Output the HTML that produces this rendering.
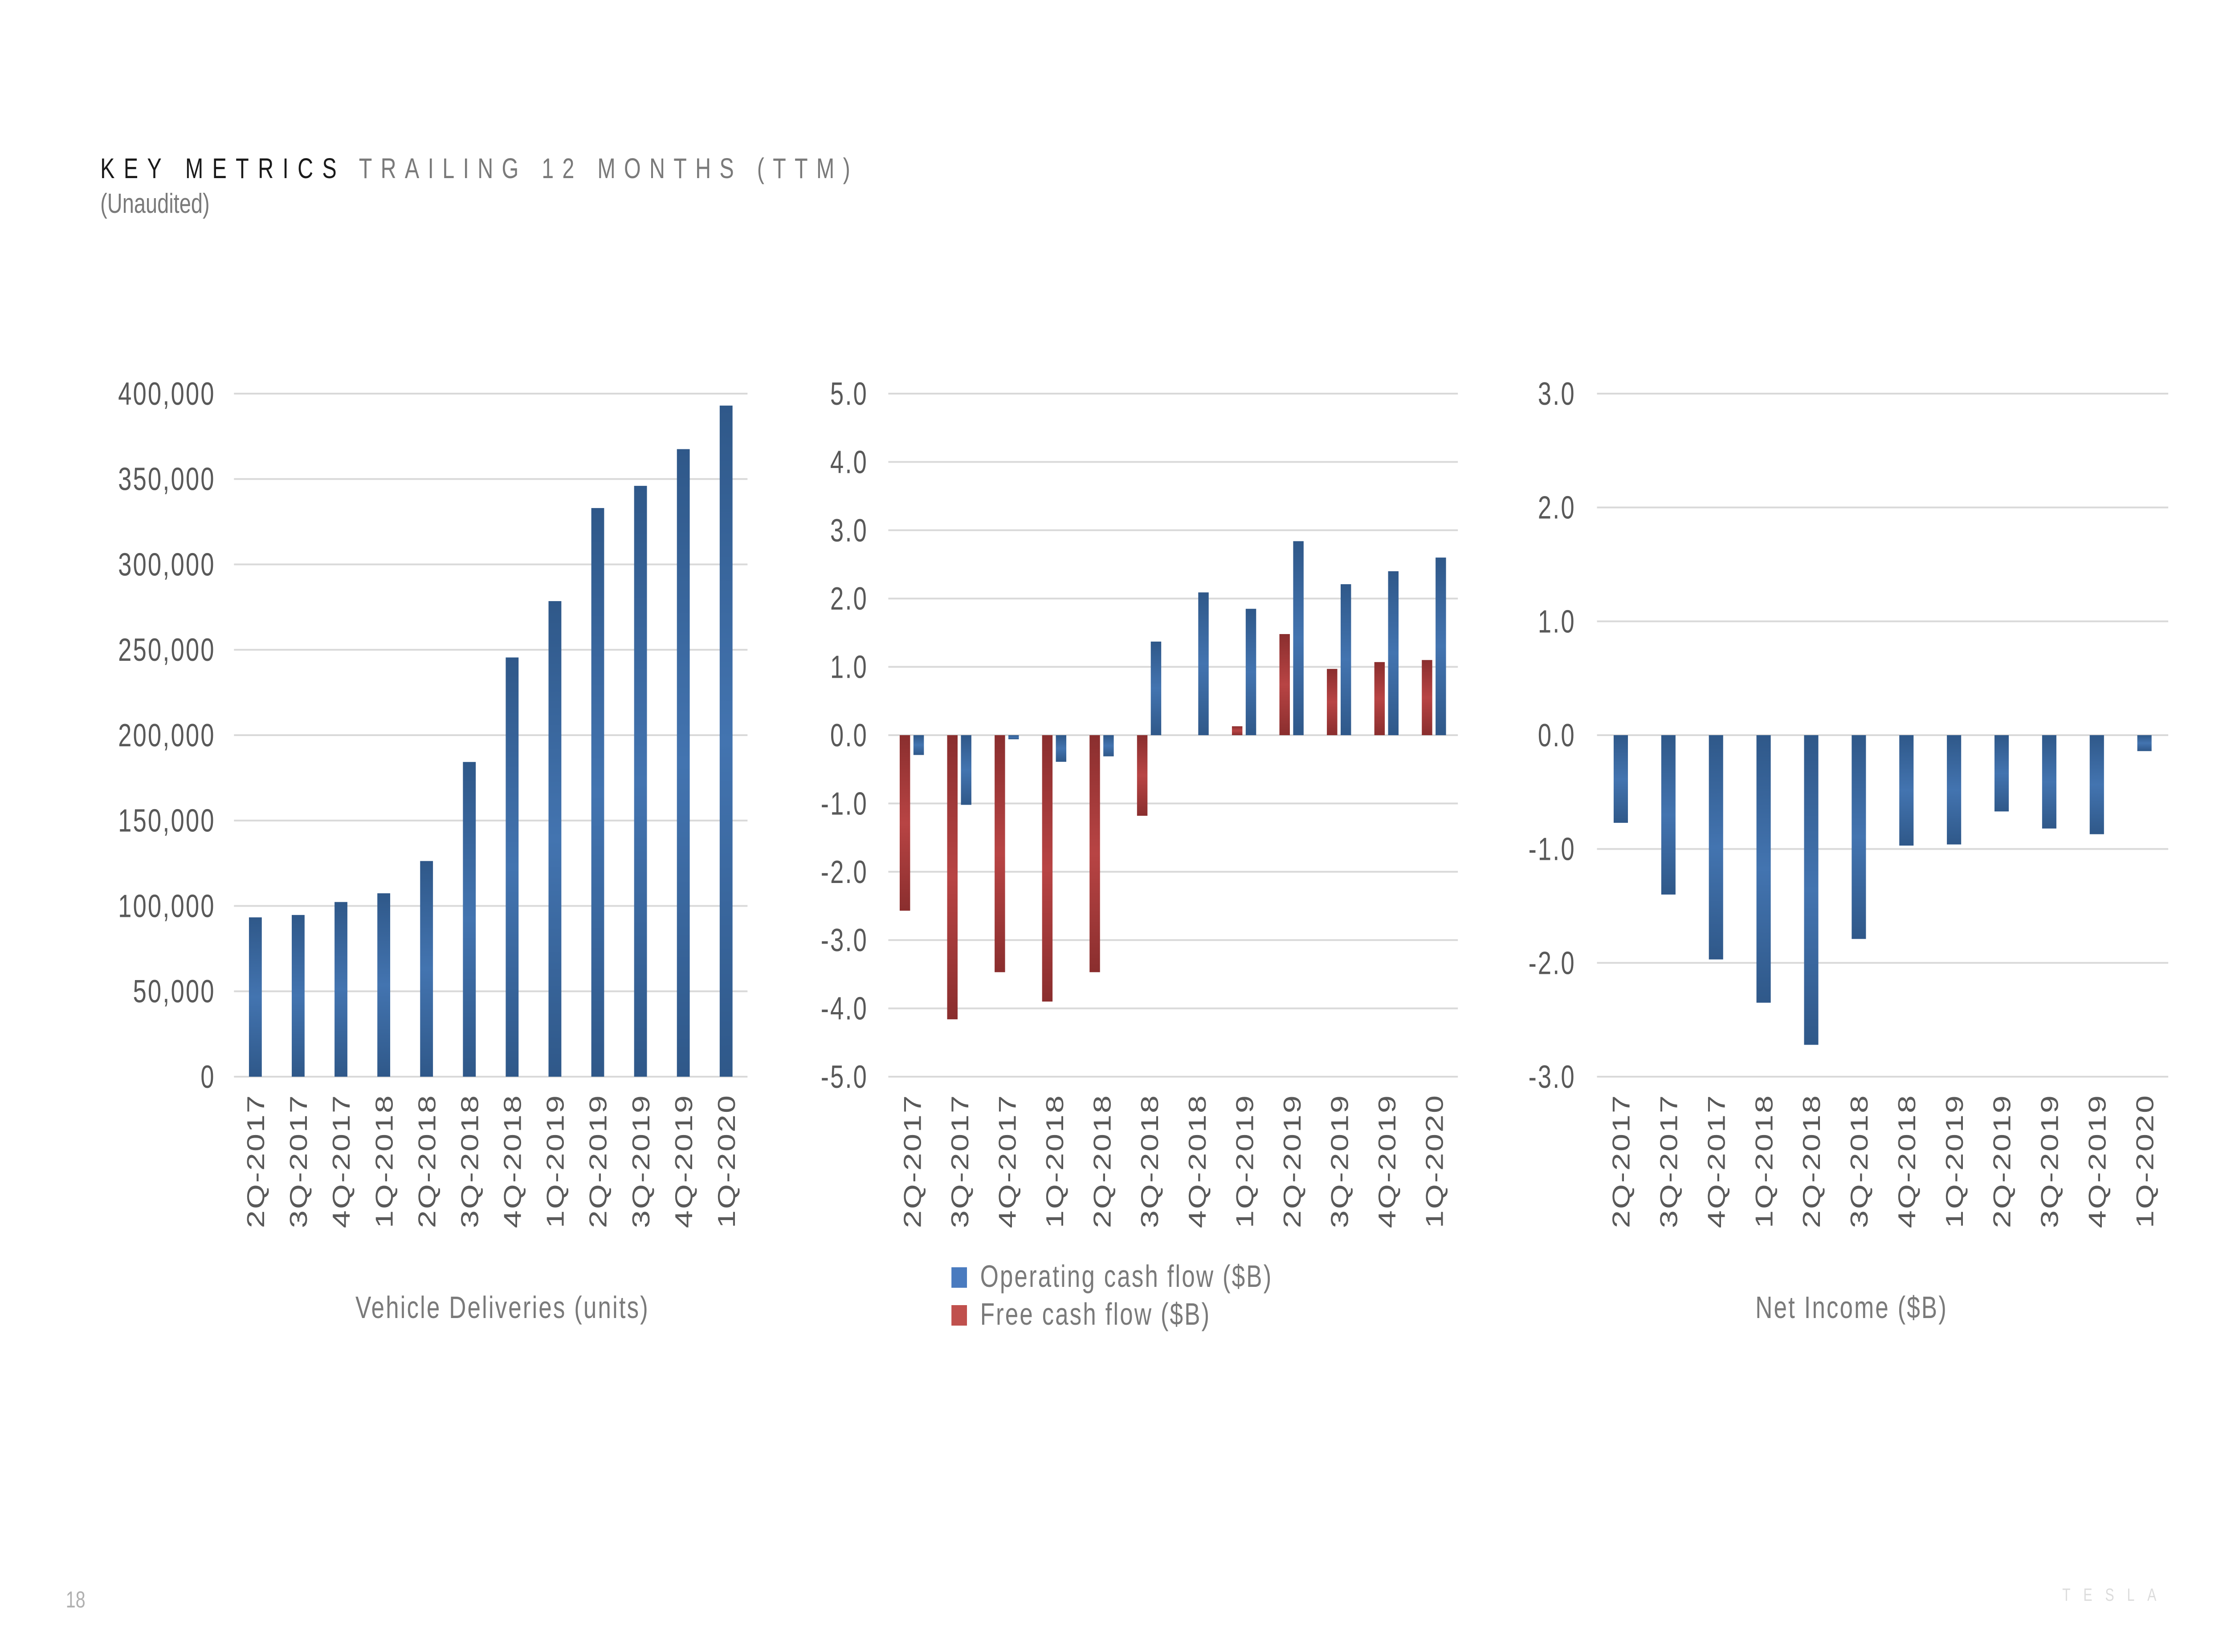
<!DOCTYPE html>
<html><head><meta charset="utf-8">
<style>
html,body{margin:0;padding:0;background:#fff;overflow:hidden;width:100%;height:100%;}
svg{display:block;font-family:"Liberation Sans",sans-serif;width:100vw;height:100vh;}
</style></head>
<body>
<svg id="root" viewBox="0 0 6596 3710" preserveAspectRatio="none" xmlns="http://www.w3.org/2000/svg">
<defs>
<linearGradient id="gBlue" x1="0" y1="0" x2="0" y2="1">
<stop offset="0" stop-color="#2f5889"/><stop offset="0.5" stop-color="#4374b0"/><stop offset="1" stop-color="#2f5889"/>
</linearGradient>
<linearGradient id="gRed" x1="0" y1="0" x2="0" y2="1">
<stop offset="0" stop-color="#8a2e2e"/><stop offset="0.5" stop-color="#b84444"/><stop offset="1" stop-color="#8a2e2e"/>
</linearGradient>
</defs>
<text x="297" y="400" font-size="64" fill="#1a1a1a" textLength="700" lengthAdjust="spacing">KEY METRICS</text>
<text x="1063" y="400" font-size="64" fill="#7a7a7a" textLength="1455" lengthAdjust="spacing">TRAILING 12 MONTHS (TTM)</text>
<text x="297" y="478" font-size="62" fill="#7a7a7a">(Unaudited)</text>
<text x="195" y="3610" font-size="52" fill="#b0b0b0">18</text>
<text x="6108" y="3595" font-size="40" fill="#dcdcdc" letter-spacing="38">TESLA</text>
<g id="charts"></g>
</svg>
<script>
const categories = ["2Q-2017","3Q-2017","4Q-2017","1Q-2018","2Q-2018","3Q-2018","4Q-2018","1Q-2019","2Q-2019","3Q-2019","4Q-2019","1Q-2020"];
const deliveries = [93300,94700,102300,107400,126300,184300,245500,278500,333000,346000,367500,393000];
const deliveryTicks = [0,50000,100000,150000,200000,250000,300000,350000,400000];
const operatingCF = [-0.29,-1.02,-0.06,-0.39,-0.31,1.37,2.09,1.85,2.84,2.21,2.40,2.60];
const freeCF = [-2.57,-4.16,-3.47,-3.90,-3.47,-1.18,0,0.13,1.48,0.97,1.07,1.10];
const cashTicks = [-5,-4,-3,-2,-1,0,1,2,3,4,5];
const netIncome = [-0.77,-1.40,-1.97,-2.35,-2.72,-1.79,-0.97,-0.96,-0.67,-0.82,-0.87,-0.14];
const incomeTicks = [-3,-2,-1,0,1,2,3];

const NS = "http://www.w3.org/2000/svg";
const root = document.getElementById("charts");
function mk(tag, attrs, parent){ const e=document.createElementNS(NS,tag); for(const k in attrs) e.setAttribute(k,attrs[k]); (parent||root).appendChild(e); return e; }

function chart(cfg){
  const g = mk("g",{});
  
  
  const yTop=884, yBot=2418;
  const min=cfg.ticks[0], max=cfg.ticks[cfg.ticks.length-1];
  const y = v => yBot - (v-min)/(max-min)*(yBot-yTop);
  const bw = (cfg.x1-cfg.x0)/categories.length;
  const xc = i => cfg.x0 + bw*i;
  cfg.ticks.forEach(t=>{
    const ln = mk("line",{x1:cfg.x0,x2:cfg.x1,y1:y(t),y2:y(t),stroke:"#d9d9d9","stroke-width":4},g);
    
    
    const tx = mk("text",{x:cfg.labX,y:y(t)+25,"font-size":72,fill:"#595959","text-anchor":"end","letter-spacing":4},g);
    
    
    tx.textContent = cfg.fmt(t);
  });
  cfg.series.forEach(s=>{
    s.values.forEach((v,i)=>{
      const x = xc(i) + bw*s.off;
      const r = mk("rect",{x:x,y:Math.min(y(v),y(0)),width:bw*s.w,height:Math.abs(y(v)-y(0)),fill:s.fill},g);
      
      
    });
  });
  categories.forEach((c,i)=>{
    const cx = xc(i)+bw/2+26;
    const tx = mk("text",{x:cx,y:2457,"font-size":72,fill:"#595959","text-anchor":"end",transform:`rotate(-90 ${cx} 2457)`,"letter-spacing":3},g);
    
    
    tx.textContent = c;
  });
  if(cfg.title){
    const t = mk("text",{x:cfg.titleX,y:2960,"font-size":70,fill:"#7a7a7a","text-anchor":"middle","letter-spacing":4},g);
    
    
    t.textContent = cfg.title;
  }
}

chart({name:"vehicle-deliveries-chart",x0:693,x1:2214,labX:638,ticks:deliveryTicks,
  fmt:t=>t.toLocaleString("en-US"),title:"Vehicle Deliveries (units)",titleX:1488,
  series:[{key:"deliveries",values:deliveries,off:0.35,w:0.3,fill:"url(#gBlue)"}]});
chart({name:"cash-flow-chart",x0:2631,x1:4318,labX:2571,ticks:cashTicks,
  fmt:t=>t.toFixed(1),title:null,
  series:[{key:"free-cash-flow",values:freeCF,off:0.24,w:0.22,fill:"url(#gRed)"},
          {key:"operating-cash-flow",values:operatingCF,off:0.53,w:0.22,fill:"url(#gBlue)"}]});
chart({name:"net-income-chart",x0:4730,x1:6422,labX:4667,ticks:incomeTicks,
  fmt:t=>t.toFixed(1),title:"Net Income ($B)",titleX:5484,
  series:[{key:"net-income",values:netIncome,off:0.35,w:0.3,fill:"url(#gBlue)"}]});

const legend = mk("g",{});


[["Operating cash flow ($B)","#4a7bbf",2890],["Free cash flow ($B)","#c0504d",2975]].forEach(([label,col,yy])=>{
  const r = mk("rect",{x:2818,y:yy-44,width:46,height:46,fill:col},legend);
  
  
  const t = mk("text",{x:2903,y:yy,"font-size":70,fill:"#7a7a7a","letter-spacing":4},legend);
  
  
  t.textContent = label;
});
</script>
</body></html>
